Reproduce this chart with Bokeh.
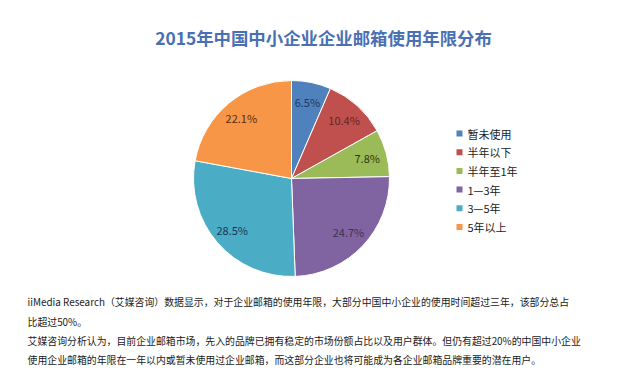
import math
from bokeh.plotting import figure
from bokeh.models import Label, ColumnDataSource
from bokeh.core.properties import value
from bokeh.embed import file_html
from bokeh.resources import INLINE

title = "2015年中国中小企业企业邮箱使用年限分布"
categories = ["暂未使用", "半年以下", "半年至1年", "1—3年", "3—5年", "5年以上"]
shares = [6.5, 10.4, 7.8, 24.7, 28.5, 22.1]
colors = ["#4f81bd", "#c0504d", "#9bbb59", "#8064a2", "#4bacc6", "#f79646"]
label_colors = ["#1f3864", "#632523", "#2b3a12", "#3f3151", "#17375e", "#5a2d0c"]
notes = [
    "iiMedia Research（艾媒咨询）数据显示，对于企业邮箱的使用年限，大部分中国中小企业的使用时间超过三年，该部分总占",
    "比超过50%。",
    "艾媒咨询分析认为，目前企业邮箱市场，先入的品牌已拥有稳定的市场份额占比以及用户群体。但仍有超过20%的中国中小企业",
    "使用企业邮箱的年限在一年以内或暂未使用过企业邮箱，而这部分企业也将可能成为各企业邮箱品牌重要的潜在用户。",
]

W, H = 623, 365
FONT = "Noto Sans CJK SC"

def sy(y):  # screen y (page) -> data y
    return H - y

p = figure(width=W, height=H, x_range=(0, W), y_range=(0, H),
           output_backend="svg", toolbar_location=None, min_border=0)
p.axis.visible = False
p.grid.visible = False
p.outline_line_color = None
p.background_fill_color = "white"

cx, cy, R = 291, sy(178), 98
total = sum(shares)
starts, ends, mids = [], [], []
cum = 0.0
for s in shares:
    a0 = math.pi / 2 - 2 * math.pi * cum / total
    cum += s
    a1 = math.pi / 2 - 2 * math.pi * cum / total
    starts.append(a0); ends.append(a1); mids.append((a0 + a1) / 2)

src = ColumnDataSource(dict(start=starts, end=ends, color=colors))
p.wedge(x=cx, y=cy, radius=R, start_angle="start", end_angle="end", direction="clock",
        fill_color="color", line_color="white", line_width=1, source=src)

rl = 0.8 * R
lsrc = ColumnDataSource(dict(
    x=[cx + rl * math.cos(m) for m in mids],
    y=[cy + rl * math.sin(m) for m in mids],
    t=[f"{s:.1f}%" for s in shares],
    c=label_colors))
p.text(x="x", y="y", text="t", text_color="c", source=lsrc, text_align="center",
       text_baseline="middle", text_font=value(FONT), text_font_size="11px")

# title
p.add_layout(Label(x=323, y=sy(37), text=title, text_align="center", text_baseline="middle",
                   text_font=FONT, text_font_size="17.4px", text_font_style="bold",
                   text_color="#4a70b4"))

# legend
ly = [133 + 18.7 * i for i in range(len(categories))]
p.rect(x=[459] * len(categories), y=[sy(v) for v in ly], width=6, height=6,
       fill_color=colors, line_color=None)
p.text(x=[467] * len(categories), y=[sy(v) for v in ly], text=categories,
       text_baseline="middle", text_font=value(FONT), text_font_size="11px",
       text_color="#222222")

# notes
ny = [301, 321, 340, 359]
for t, y in zip(notes, ny):
    p.add_layout(Label(x=27, y=sy(y), text=t, text_baseline="middle",
                       text_font=FONT, text_font_size="9.9px", text_color="#1a1a1a"))

open("out.html", "w").write(file_html(p, INLINE))
